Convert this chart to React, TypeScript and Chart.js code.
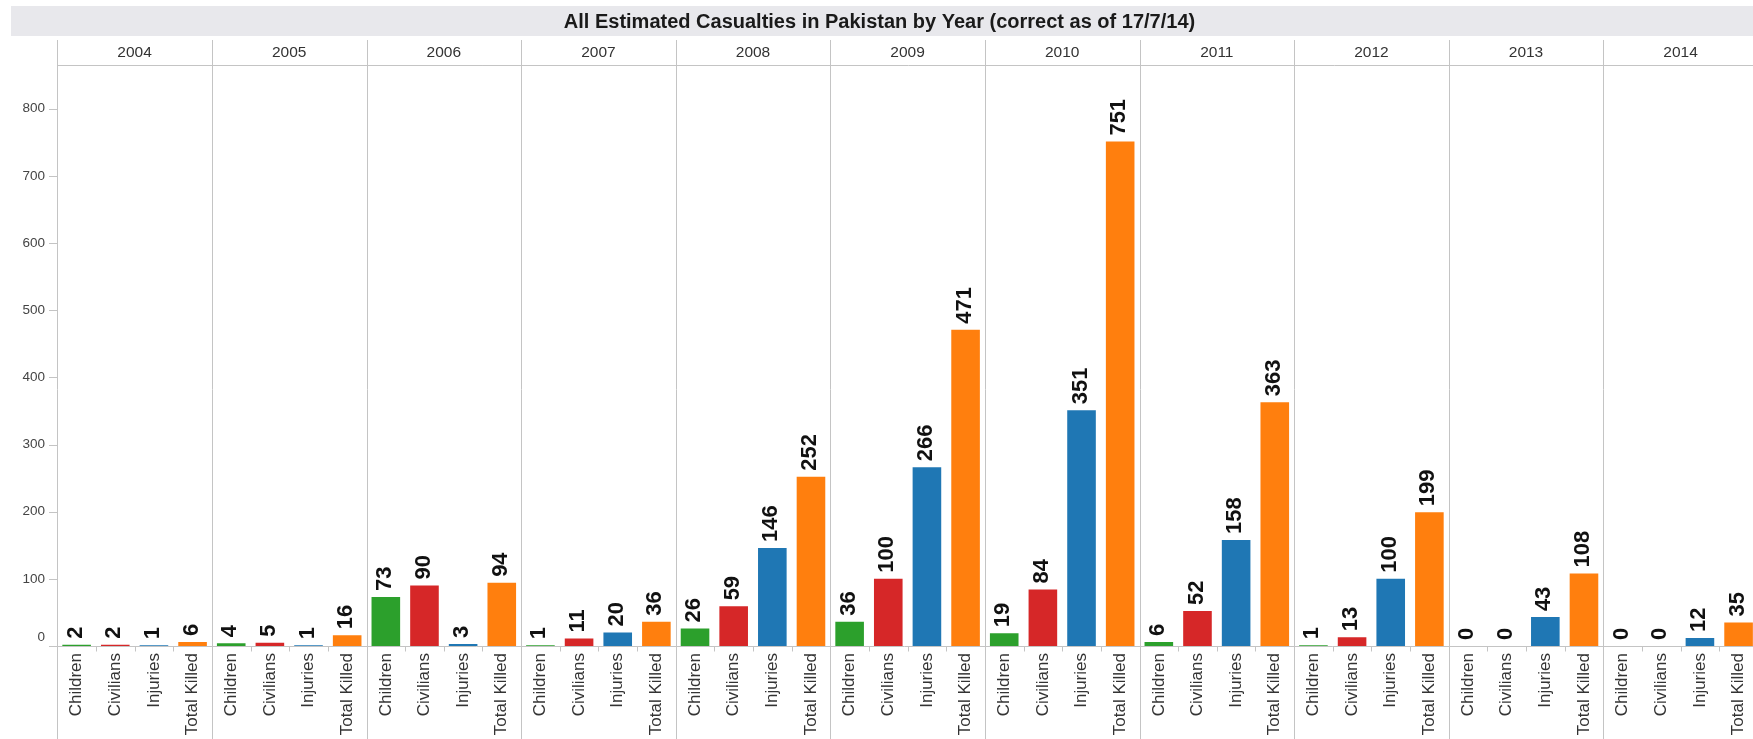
import React, { useEffect, useRef } from 'react';
import { Chart, registerables } from 'chart.js';

Chart.register(...registerables);

// Casualty counts per year, one array per measure
const years = ['2004', '2005', '2006', '2007', '2008', '2009', '2010', '2011', '2012', '2013', '2014'];
const measures = ['Children', 'Civilians', 'Injuries', 'Total Killed'];
const children = [2, 4, 73, 1, 26, 36, 19, 6, 1, 0, 0];
const civilians = [2, 5, 90, 11, 59, 100, 84, 52, 13, 0, 0];
const injuries = [1, 1, 3, 20, 146, 266, 351, 158, 100, 43, 12];
const totalKilled = [6, 16, 94, 36, 252, 471, 751, 363, 199, 108, 35];
const measureColors = ['#2ca02c', '#d62728', '#1f77b4', '#ff7f0e'];
const yTickValues = [0, 100, 200, 300, 400, 500, 600, 700, 800];
const title = 'All Estimated Casualties in Pakistan by Year (correct as of 17/7/14)';

const FONT = '"Liberation Sans", Arial, sans-serif';
const LINE = '#c4c4c4';

const seriesByMeasure = [children, civilians, injuries, totalKilled];
const labels: string[] = [];
const values: number[] = [];
const colors: string[] = [];
years.forEach((_, yi) => {
  measures.forEach((m, mi) => {
    labels.push(m);
    values.push(seriesByMeasure[mi][yi]);
    colors.push(measureColors[mi]);
  });
});

const W = 1760;
const H = 739;

const trellisPlugin = {
  id: 'trellis',
  beforeDraw(chart: any) {
    const { ctx } = chart;
    ctx.save();
    ctx.fillStyle = '#ffffff';
    ctx.fillRect(0, 0, W, H);
    // title band
    ctx.fillStyle = '#e8e8ec';
    ctx.fillRect(11, 6, W - 11, 30);
    ctx.fillStyle = '#1a1a1a';
    ctx.font = `bold 20px ${FONT}`;
    ctx.textAlign = 'center';
    ctx.textBaseline = 'middle';
    ctx.fillText(title, 879.5, 22);
    ctx.restore();
  },
  afterDraw(chart: any) {
    const { ctx, chartArea } = chart;
    const x = chart.scales.x;
    const y = chart.scales.y;
    const n = labels.length;
    const catW = (x.getPixelForValue(1) - x.getPixelForValue(0));
    const baseY = y.getPixelForValue(0);
    ctx.save();

    // panel separators and year header
    ctx.strokeStyle = LINE;
    ctx.lineWidth = 1;
    for (let k = 0; k <= years.length; k++) {
      const px = Math.round(x.getPixelForValue(k * 4) - catW / 2) + 0.5;
      ctx.beginPath();
      ctx.moveTo(px, 40);
      ctx.lineTo(px, H);
      ctx.stroke();
    }
    ctx.beginPath();
    ctx.moveTo(chartArea.left, 65.5);
    ctx.lineTo(W, 65.5);
    ctx.stroke();

    ctx.fillStyle = '#333333';
    ctx.font = `15.5px ${FONT}`;
    ctx.textAlign = 'center';
    ctx.textBaseline = 'middle';
    years.forEach((yr, k) => {
      const cx = (x.getPixelForValue(k * 4) + x.getPixelForValue(k * 4 + 3)) / 2;
      ctx.fillText(yr, cx, 53);
    });

    // baseline and category ticks
    const by = Math.round(baseY) + 0.5;
    ctx.beginPath();
    ctx.moveTo(49, by);
    ctx.lineTo(W, by);
    ctx.stroke();
    for (let i = 1; i < n; i++) {
      if (i % 4 === 0) continue;
      const px = Math.round(x.getPixelForValue(i) - catW / 2) + 0.5;
      ctx.beginPath();
      ctx.moveTo(px, by);
      ctx.lineTo(px, by + 5);
      ctx.stroke();
    }

    // y axis ticks and labels
    ctx.fillStyle = '#444444';
    ctx.font = `13.5px ${FONT}`;
    ctx.textAlign = 'right';
    ctx.textBaseline = 'middle';
    yTickValues.forEach((v) => {
      const py = y.getPixelForValue(v);
      if (v === 0) {
        ctx.fillText(String(v), 45, py - 9);
        return;
      }
      ctx.beginPath();
      ctx.moveTo(49, Math.round(py) + 0.5);
      ctx.lineTo(chartArea.left, Math.round(py) + 0.5);
      ctx.stroke();
      ctx.fillText(String(v), 45, py);
    });

    // category labels
    ctx.fillStyle = '#333333';
    ctx.font = `17px ${FONT}`;
    ctx.textAlign = 'right';
    ctx.textBaseline = 'middle';
    labels.forEach((lab, i) => {
      const cx = x.getPixelForValue(i);
      ctx.save();
      ctx.translate(cx, baseY + 7);
      ctx.rotate(-Math.PI / 2);
      ctx.fillText(lab, 0, 0);
      ctx.restore();
    });

    // value labels
    ctx.fillStyle = '#111111';
    ctx.font = `bold 22px ${FONT}`;
    ctx.textAlign = 'left';
    ctx.textBaseline = 'middle';
    const meta = chart.getDatasetMeta(0);
    meta.data.forEach((bar: any, i: number) => {
      ctx.save();
      ctx.translate(bar.x - 1, bar.y - 6);
      ctx.rotate(-Math.PI / 2);
      ctx.fillText(String(values[i]), 0, 0);
      ctx.restore();
    });

    ctx.restore();
  },
};

export default function App() {
  const ref = useRef<HTMLCanvasElement>(null);

  useEffect(() => {
    document.body.style.margin = '0';
    const canvas = ref.current!;
    const chart = new Chart(canvas, {
      type: 'bar',
      data: {
        labels,
        datasets: [
          {
            data: values,
            backgroundColor: colors,
            borderWidth: 0,
            categoryPercentage: 1,
            barPercentage: 0.74,
          },
        ],
      },
      options: {
        responsive: false,
        animation: false,
        devicePixelRatio: 1,
        layout: {
          padding: { left: 57.3, right: W - 1757.9, top: 65.7, bottom: H - 646 },
        },
        plugins: {
          legend: { display: false },
          tooltip: { enabled: false },
          title: { display: false },
        },
        scales: {
          x: { display: false, offset: true },
          y: {
            display: false,
            min: 0,
            max: 864,
            ticks: { stepSize: 100 },
          },
        },
      },
      plugins: [trellisPlugin],
    });
    return () => chart.destroy();
  }, []);

  return (
    <div style={{ width: 1753, height: H, overflow: 'hidden', position: 'relative' }}>
      <canvas ref={ref} width={W} height={H} style={{ display: 'block', width: W, height: H }} />
    </div>
  );
}
